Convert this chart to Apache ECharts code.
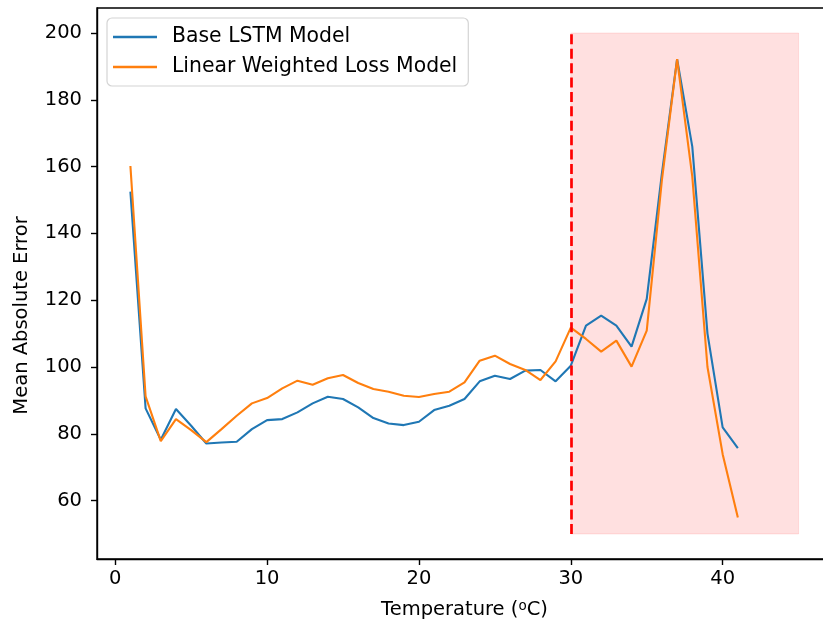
<!DOCTYPE html>
<html>
<head>
<meta charset="utf-8">
<script src="https://cdn.jsdelivr.net/npm/echarts@6/dist/echarts.min.js"></script>
<style>
html,body{margin:0;padding:0;background:#fff;}
#chart{width:823px;height:628px;}
</style>
</head>
<body>
<div id="chart"></div>
<script>
const temperatures = [1,2,3,4,5,6,7,8,9,10,11,12,13,14,15,16,17,18,19,20,21,22,23,24,25,26,27,28,29,30,31,32,33,34,35,36,37,38,39,40,41];
const baseLSTM = [152.5,87.6,78.2,87.4,82.4,77.1,77.4,77.6,81.4,84.1,84.4,86.4,89.1,91.1,90.4,87.9,84.7,83.1,82.6,83.6,87.1,88.4,90.4,95.7,97.4,96.4,98.9,99.1,95.7,100.4,112.4,115.4,112.4,106.1,120.4,158,192.2,166,110,81.9,75.7];
const linearWeighted = [160.2,91.2,77.8,84.4,81.1,77.5,81.4,85.4,89.1,90.7,93.6,95.9,94.7,96.6,97.6,95.2,93.4,92.6,91.4,91.0,91.9,92.6,95.4,101.9,103.4,100.9,99.1,96.1,101.7,111.8,108.4,104.6,107.9,100.1,110.9,156,192.2,157,100,73.9,54.9];
const seriesNames = ['Base LSTM Model', 'Linear Weighted Loss Model'];
const xTicks = [0,10,20,30,40];
const yTicks = [60,80,100,120,140,160,180,200];
const shadeStart = 30, shadeEnd = 45, shadeLow = 50, shadeHigh = 200;
const thresholdTemp = 30;

const pairs = vals => temperatures.map((t,i) => [t, vals[i]]);
const font = 'DejaVu Sans';
const fs = 19.5;

const chart = echarts.init(document.getElementById('chart'), null, {renderer:'canvas'});
chart.setOption({
  animation: false,
  backgroundColor: '#fff',
  textStyle: {fontFamily: font},
  grid: {left: 97, top: 8, width: 735, height: 551, outerBoundsMode: 'none', containLabel: false, show: true, borderColor: '#000', borderWidth: 1.4, backgroundColor: 'transparent'},
  legend: {
    orient: 'vertical', left: 107, top: 18,
    data: seriesNames,
    icon: 'rect', itemWidth: 44, itemHeight: 2.5, itemGap: 10,
    padding: [9, 11, 9, 6],
    backgroundColor: '#fff', borderColor: '#d4d4d4', borderWidth: 1.2, borderRadius: 5,
    textStyle: {fontFamily: font, fontSize: 20.4, lineHeight: 20, color: '#000', padding: [0,0,0,10]}
  },
  xAxis: {
    type: 'value', min: -1.2, max: 47.2,
    name: 'Temperature ({sup|o}C)', nameLocation: 'middle', nameGap: 40,
    nameTextStyle: {fontFamily: font, fontSize: fs, color: '#000', rich: {sup: {fontFamily: font, fontSize: 13.5, color: '#000', verticalAlign: 'top', padding:[0,0,8,0]}}},
    splitLine: {show: false},
    axisLine: {show: true, onZero: false, lineStyle: {color: '#000', width: 1.4}},
    axisTick: {show: true, length: 6, lineStyle: {color: '#000', width: 1.4}, customValues: xTicks},
    axisLabel: {fontFamily: font, fontSize: fs, color: '#000', margin: 10, customValues: xTicks}
  },
  yAxis: {
    type: 'value', min: 42.5, max: 207.5,
    name: 'Mean Absolute Error', nameLocation: 'middle', nameGap: 65,
    nameTextStyle: {fontFamily: font, fontSize: fs, color: '#000', padding: [0, 64, 0, 0]},
    splitLine: {show: false},
    axisLine: {show: true, onZero: false, lineStyle: {color: '#000', width: 1.4}},
    axisTick: {show: true, length: 6, lineStyle: {color: '#000', width: 1.4}, customValues: yTicks},
    axisLabel: {fontFamily: font, fontSize: fs, color: '#000', margin: 15, customValues: yTicks}
  },
  series: [
    {
      type: 'line', name: '_shade', data: [], z: 1, silent: true,
      markArea: {
        silent: true,
        itemStyle: {color: 'rgba(255,0,0,0.12)', borderColor: 'rgba(255,0,0,0.10)', borderWidth: 1},
        data: [[{coord: [shadeStart, shadeLow]}, {coord: [shadeEnd, shadeHigh]}]]
      }
    },
    {
      type: 'line', name: seriesNames[0], data: pairs(baseLSTM), z: 3,
      showSymbol: false, symbol: 'none', color: '#1f77b4',
      lineStyle: {color: '#1f77b4', width: 2.1}
    },
    {
      type: 'line', name: seriesNames[1], data: pairs(linearWeighted), z: 4,
      showSymbol: false, symbol: 'none', color: '#ff7f0e',
      lineStyle: {color: '#ff7f0e', width: 2.1}
    },
    {
      type: 'line', name: '_vline', data: [], z: 5, silent: true,
      markLine: {
        silent: true, symbol: ['none','none'], label: {show: false},
        lineStyle: {color: '#ff0000', width: 2.7, type: [10, 4.4]},
        data: [[{coord: [thresholdTemp, shadeLow]}, {coord: [thresholdTemp, shadeHigh]}]]
      }
    }
  ]
});
</script>
</body>
</html>
